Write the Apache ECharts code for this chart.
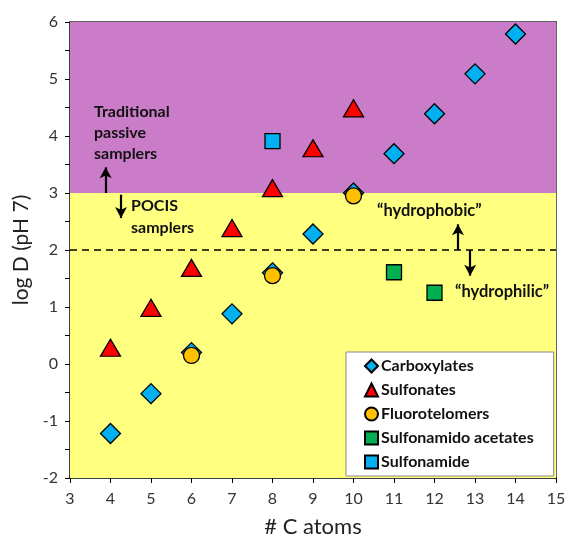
<!DOCTYPE html>
<html><head><meta charset="utf-8">
<script src="https://cdn.jsdelivr.net/npm/echarts@6/dist/echarts.min.js"></script>
<style>html,body{margin:0;padding:0;background:#fff}#c{width:567px;height:536px}</style>
</head><body><div id="c"></div>
<script>
const carbX = [4,5,6,7,8,9,10,11,12,13,14];
const carbY = [-1.22,-0.52,0.2,0.88,1.6,2.28,3.0,3.69,4.39,5.09,5.79];
const sulfX = [4,5,6,7,8,9,10];
const sulfY = [0.25,0.95,1.65,2.35,3.05,3.75,4.45];
const fluoX = [6,8,10];
const fluoY = [0.15,1.55,2.95];
const amidoX = [11,12];
const amidoY = [1.61,1.25];
const amideX = [8];
const amideY = [3.91];
const xTicks = [3,15,1];
const yTicks = [-2,6,0.5];
const threshold = 3;
const dividing = 2;

const F = 'Lato, "Open Sans", sans-serif';
const zip = (a,b)=>a.map((v,i)=>[v,b[i]]);
const chart = echarts.init(document.getElementById('c'));
const base = {type:'scatter', itemStyle:{borderColor:'#000', borderWidth:1.3, opacity:1}, z:3};
const frameAxis = {axisLine:{show:true,onZero:false,lineStyle:{color:'#333',width:1.5}},axisTick:{show:false},axisLabel:{show:false},splitLine:{show:false}};
chart.setOption({
  animation:false,
  grid:{left:70,right:11,top:22,bottom:58,containLabel:false,outerBoundsMode:'none'},
  xAxis:[{type:'value',min:xTicks[0],max:xTicks[1],interval:xTicks[2],
    name:'# C atoms',nameLocation:'middle',nameGap:38,nameTextStyle:{fontFamily:F,fontSize:22,color:'#222'},
    axisLine:{onZero:false,lineStyle:{color:'#000',width:1.5}},axisTick:{length:5,lineStyle:{color:'#000'}},
    axisLabel:{fontFamily:F,fontSize:16,color:'#333',margin:13},splitLine:{show:false}},
    Object.assign({type:'value',position:'top',min:xTicks[0],max:xTicks[1]},frameAxis)],
  yAxis:[{type:'value',min:yTicks[0],max:yTicks[1],interval:yTicks[2],
    name:'log D (pH 7)',nameLocation:'middle',nameGap:36,nameTextStyle:{fontFamily:F,fontSize:21,color:'#222'},
    axisLine:{show:true,onZero:false,lineStyle:{color:'#000',width:1.5}},axisTick:{length:5,lineStyle:{color:'#000'}},
    axisLabel:{fontFamily:F,fontSize:16,color:'#333',margin:12,formatter:v=>Number.isInteger(v)?String(v):''},
    splitLine:{show:false}},
    Object.assign({type:'value',position:'right',min:yTicks[0],max:yTicks[1]},frameAxis)],
  legend:{orient:'vertical',left:346,top:352,width:206,backgroundColor:'#fff',borderColor:'#888',borderWidth:1,
    padding:[6,20,6,18],itemGap:8,itemWidth:13,itemHeight:13,
    textStyle:{fontFamily:F,fontSize:16,fontWeight:'bold',color:'#111',padding:[0,0,0,-2]},
    data:['Carboxylates','Sulfonates','Fluorotelomers','Sulfonamido acetates','Sulfonamide']},
  series:[
    {type:'line',data:[],silent:true,z:1,
      markArea:{silent:true,data:[
        [{yAxis:threshold,itemStyle:{color:'#CA7CC8'}},{yAxis:yTicks[1]}],
        [{yAxis:yTicks[0],itemStyle:{color:'#FFFF80'}},{yAxis:threshold}]]},
      markLine:{silent:true,symbol:['none','none'],label:{show:false},
        lineStyle:{color:'#000',type:[7,5],width:1.5},data:[{yAxis:dividing}]}},
    {type:'line',data:[],silent:true,z:2,
      markLine:{silent:true,symbol:['none','arrow'],symbolSize:[9,11],label:{show:false},
        lineStyle:{color:'#000',type:'solid',width:2.2},
        data:[
          [{coord:[3.88,3.0]},{coord:[3.88,3.45]}],
          [{coord:[4.26,2.97]},{coord:[4.26,2.56]}],
          [{coord:[12.58,2.0]},{coord:[12.58,2.45]}],
          [{coord:[12.88,2.0]},{coord:[12.88,1.55]}]
        ]}},
    Object.assign({},base,{name:'Carboxylates',symbol:'diamond',symbolSize:[20,20],itemStyle:Object.assign({},base.itemStyle,{color:'#00B0F0'}),data:zip(carbX,carbY)}),
    Object.assign({},base,{name:'Sulfonates',symbol:'triangle',symbolSize:[20,17],symbolOffset:[0,-2],itemStyle:Object.assign({},base.itemStyle,{color:'#FF0000'}),data:zip(sulfX,sulfY)}),
    Object.assign({},base,{name:'Fluorotelomers',symbol:'circle',symbolSize:16,itemStyle:Object.assign({},base.itemStyle,{color:'#FFC000'}),data:zip(fluoX,fluoY)}),
    Object.assign({},base,{name:'Sulfonamido acetates',symbol:'rect',symbolSize:15,itemStyle:Object.assign({},base.itemStyle,{color:'#00B050'}),data:zip(amidoX,amidoY)}),
    Object.assign({},base,{name:'Sulfonamide',symbol:'rect',symbolSize:15,itemStyle:Object.assign({},base.itemStyle,{color:'#00B0F0'}),data:zip(amideX,amideY)})
  ],
  graphic:[
    {type:'text',z:100,left:94,top:101,style:{text:'Traditional\npassive\nsamplers',fontFamily:'Lato',fontWeight:'bold',fontSize:16,fill:'#111',lineHeight:21}},
    {type:'text',z:100,left:131,top:195,style:{text:'POCIS\nsamplers',fontFamily:'Lato',fontWeight:'bold',fontSize:16,fill:'#111',lineHeight:22}},
    {type:'text',z:100,left:377,top:202,style:{text:'\u201Chydrophobic\u201D',fontFamily:'Lato',fontWeight:'bold',fontSize:16.5,fill:'#111'}},
    {type:'text',z:100,left:455,top:283,style:{text:'\u201Chydrophilic\u201D',fontFamily:'Lato',fontWeight:'bold',fontSize:16.5,fill:'#111'}}
  ]
});
</script></body></html>
